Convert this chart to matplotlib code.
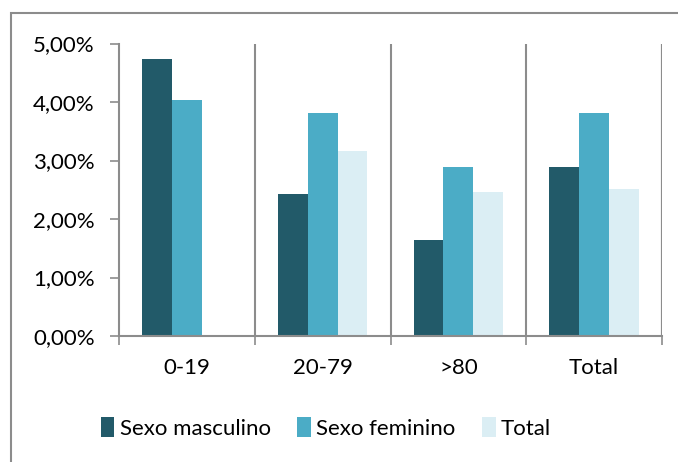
import matplotlib
matplotlib.use("Agg")
import matplotlib.pyplot as plt
from matplotlib.patches import Rectangle
import numpy as np

categories = ["0-19", "20-79", ">80", "Total"]
masculino = [4.73, 2.43, 1.64, 2.89]
feminino = [4.03, 3.82, 2.89, 3.81]
total = [np.nan, 3.17, 2.46, 2.51]

series = [("Sexo masculino", masculino, "#225a69"),
          ("Sexo feminino", feminino, "#4bacc6"),
          ("Total", total, "#dbeef4")]

plt.rcParams['font.family'] = ['Lato', 'DejaVu Sans']
grey = "#8c8c8c"
fs = 16

fig = plt.figure(figsize=(6.78, 4.62), dpi=100)
ax = fig.add_axes([119/678, 1-336/462, (662-119)/678, (336-43.5)/462])

x = np.arange(len(categories))
w = 0.22
for i, (name, vals, color) in enumerate(series):
    ax.bar(x + (i-1)*w, vals, w, color=color, label=name, zorder=2)

ax.set_xlim(-0.5, len(categories)-0.5)
ax.set_ylim(0, 5)
ax.set_yticks(np.arange(0, 6, 1))
ax.set_yticklabels([f"{v:.2f}%".replace(".", ",") for v in range(6)], fontsize=fs)
ax.set_xticks(x)
ax.set_xticklabels(categories, fontsize=fs)
ax.set_xticks(np.arange(-0.5, len(categories)), minor=True)
ax.tick_params(axis='x', which='major', length=0, pad=16)
ax.tick_params(axis='x', which='minor', length=6.5, width=1.2, color=grey)
ax.tick_params(axis='y', length=6.5, width=1.2, color=grey, pad=11)

for b in np.arange(0.5, len(categories)):
    ax.axvline(b, color=grey, lw=1.5, zorder=1)
ax.axvline(len(categories)-0.5, color=grey, lw=1.5, zorder=1)

for s in ["top", "right"]:
    ax.spines[s].set_visible(False)
for s in ["left", "bottom"]:
    ax.spines[s].set_color(grey)
    ax.spines[s].set_linewidth(1.5)

fig.legend(loc="center", bbox_to_anchor=(326/678, 1-428/462), ncol=3,
           frameon=False, fontsize=fs, handlelength=0.6, handleheight=1.0,
           handletextpad=0.25, columnspacing=1.2)

fig.patches.append(Rectangle((11/678, -0.1), 1.2, 1.1 - 13/462, transform=fig.transFigure,
                             fill=False, edgecolor=grey, lw=1.5))

fig.savefig("out.png", dpi=100)
